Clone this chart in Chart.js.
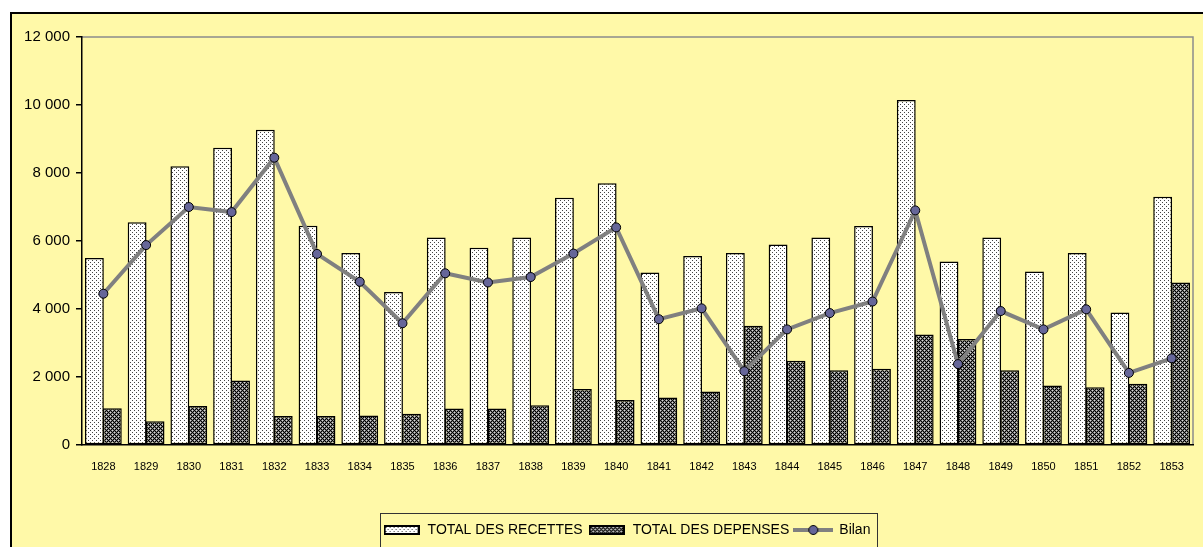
<!DOCTYPE html>
<html>
<head>
<meta charset="utf-8">
<script src="https://cdn.jsdelivr.net/npm/chart.js@4/dist/chart.umd.min.js"></script>
<style>
  html, body { margin: 0; padding: 0; background: #fff; }
  #wrap { position: relative; width: 1203px; height: 547px; }
</style>
</head>
<body>
<div id="wrap"><canvas id="myChart"></canvas></div>
<script>
// data
var years = ['1828','1829','1830','1831','1832','1833','1834','1835','1836','1837','1838','1839','1840',
             '1841','1842','1843','1844','1845','1846','1847','1848','1849','1850','1851','1852','1853'];
var recettes = [5500, 6550, 8200, 8740, 9270, 6450, 5650, 4500, 6100, 5800, 6100, 7270, 7700,
                5070, 5560, 5650, 5900, 6100, 6440, 10150, 5400, 6100, 5100, 5650, 3900, 7300];
var depenses = [1080, 700, 1150, 1900, 850, 850, 870, 920, 1070, 1070, 1170, 1650, 1320,
                1400, 1570, 3510, 2480, 2200, 2240, 3250, 3120, 2200, 1750, 1700, 1800, 4780];
var bilan = [4450, 5880, 7000, 6850, 8450, 5620, 4800, 3580, 5050, 4780, 4940, 5630, 6400,
             3700, 4020, 2170, 3400, 3880, 4220, 6900, 2380, 3940, 3400, 3990, 2120, 2550];
var yTicks = [0, 2000, 4000, 6000, 8000, 10000, 12000];
var seriesNames = ['TOTAL DES RECETTES', 'TOTAL DES DEPENSES', 'Bilan'];

Chart.defaults.font.family = "'Liberation Sans', Arial, sans-serif";
Chart.defaults.color = '#000';

var YELLOW = '#FFF9A8';

function makePattern(rows, colors)
{
    var c = document.createElement('canvas');
    c.width = rows[0].length;
    c.height = rows.length;
    var cx = c.getContext('2d');
    rows.forEach(function(row, y) {
        for (var x = 0; x < row.length; x++) {
            cx.fillStyle = colors[row[x]];
            cx.fillRect(x, y, 1, 1);
        }
    });
    return cx.createPattern(c, 'repeat');
}

var lightPattern = makePattern(
    ['k...',
     '....',
     '..k.',
     '....'],
    {'k': '#444', '.': '#fff'});
var darkPattern = makePattern(
    ['kgwg',
     'gkgk',
     'wgkg',
     'gkgk'],
    {'k': '#000', 'g': '#7a7a7a', 'w': '#d8d8d8'});

// small legend icons
function barIcon(pattern)
{
    var c = document.createElement('canvas');
    c.width = 36; c.height = 10;
    var cx = c.getContext('2d');
    cx.fillStyle = pattern;
    cx.fillRect(1, 1, 34, 8);
    cx.lineWidth = 2;
    cx.strokeStyle = '#000';
    cx.strokeRect(1, 1, 34, 8);
    return c;
}
function lineIcon()
{
    var c = document.createElement('canvas');
    c.width = 40; c.height = 12;
    var cx = c.getContext('2d');
    cx.strokeStyle = '#808080';
    cx.lineWidth = 4;
    cx.beginPath(); cx.moveTo(0, 6); cx.lineTo(40, 6); cx.stroke();
    cx.fillStyle = '#666699';
    cx.strokeStyle = '#000';
    cx.lineWidth = 1;
    cx.beginPath(); cx.arc(20, 6, 4.5, 0, Math.PI * 2); cx.fill(); cx.stroke();
    return c;
}
var icons = [barIcon(lightPattern), barIcon(darkPattern), lineIcon()];

function fmt(v)
{
    return String(v).replace(/\B(?=(\d{3})+(?!\d))/g, ' ');
}

var frame = {
    id: 'frame',
    afterLayout: function(chart) {
        // legend sits a bit left of the plot centre in the original
        var lg = chart.legend;
        if (lg) { lg.left -= 11; lg.right -= 11; }
    },
    beforeDraw: function(chart) {
        var ctx = chart.ctx;
        ctx.save();
        ctx.fillStyle = '#fff';
        ctx.fillRect(0, 0, chart.width, chart.height);
        ctx.fillStyle = YELLOW;
        ctx.fillRect(11, 13, chart.width, chart.height);
        ctx.strokeStyle = '#000';
        ctx.lineWidth = 2;
        ctx.beginPath();
        ctx.moveTo(11, chart.height + 5); ctx.lineTo(11, 13); ctx.lineTo(chart.width + 5, 13);
        ctx.stroke();
        var a = chart.chartArea;
        ctx.strokeStyle = '#8c8c8c';
        ctx.lineWidth = 1.5;
        ctx.beginPath();
        ctx.moveTo(a.left, a.top); ctx.lineTo(a.right, a.top); ctx.lineTo(a.right, a.bottom);
        ctx.stroke();
        ctx.restore();
    },
    afterDraw: function(chart) {
        var lg = chart.legend;
        if (!lg || !lg.legendHitBoxes.length) return;
        var boxes = lg.legendHitBoxes;
        var first = boxes[0], last = boxes[boxes.length - 1];
        var ctx = chart.ctx;
        ctx.save();
        ctx.strokeStyle = '#333';
        ctx.lineWidth = 1;
        var l = Math.round(first.left) - 2.5;
        var r = Math.round(last.left + last.width) + 7.5;
        var t = 513.5;
        ctx.strokeRect(l, t, r - l, chart.height + 10 - t);
        ctx.restore();
    }
};

var ctx = document.getElementById('myChart');
var chart = new Chart(ctx, {
    type: 'bar',
    data: {
        labels: years,
        datasets: [{
            label: seriesNames[0],
            data: recettes,
            backgroundColor: lightPattern,
            borderColor: '#000',
            borderWidth: 1.5,
            borderSkipped: false,
            barPercentage: 1.05,
            categoryPercentage: 0.84,
            order: 1
        }, {
            label: seriesNames[1],
            data: depenses,
            backgroundColor: darkPattern,
            borderColor: '#000',
            borderWidth: 1.5,
            borderSkipped: false,
            barPercentage: 1.05,
            categoryPercentage: 0.84,
            order: 2
        }, {
            type: 'line',
            label: seriesNames[2],
            data: bilan,
            borderColor: '#808080',
            borderWidth: 4,
            pointRadius: 4.5,
            pointBackgroundColor: '#666699',
            pointBorderColor: '#000',
            pointBorderWidth: 1,
            tension: 0,
            fill: false,
            order: 0
        }]
    },
    options: {
        responsive: true,
        maintainAspectRatio: false,
        devicePixelRatio: 1,
        animation: false,
        layout: { padding: { left: 0, right: 10, top: 37, bottom: 0 } },
        plugins: {
            tooltip: { enabled: false },
            legend: {
                position: 'bottom',
                fullSize: false,
                labels: {
                    usePointStyle: true,
                    pointStyleWidth: 38,
                    boxHeight: 10,
                    padding: 5,
                    font: { size: 14 },
                    color: '#000',
                    generateLabels: function(chart) {
                        return chart.data.datasets.map(function(ds, i) {
                            return {
                                text: ds.label,
                                pointStyle: icons[i],
                                datasetIndex: i,
                                hidden: false,
                                fontColor: '#000',
                                lineWidth: 0
                            };
                        });
                    }
                }
            }
        },
        scales: {
            x: {
                grid: { display: true, drawOnChartArea: false, drawTicks: false },
                border: { display: true, color: '#000', width: 1.5 },
                ticks: { font: { size: 11 }, padding: 15, maxRotation: 0, autoSkip: false },
                afterFit: function(scale) { scale.height = 73; }
            },
            y: {
                min: 0,
                max: 12000,
                afterBuildTicks: function(scale) {
                    scale.ticks = yTicks.map(function(v) { return { value: v }; });
                },
                grid: { display: true, drawOnChartArea: false, drawTicks: true, tickLength: 6, color: '#000', lineWidth: 1.5 },
                border: { display: true, color: '#000', width: 1.5 },
                ticks: { font: { size: 15 }, padding: 6, callback: function(v) { return fmt(v); } },
                afterFit: function(scale) { scale.width = 82; }
            }
        }
    },
    plugins: [frame]
});
</script>
</body>
</html>
